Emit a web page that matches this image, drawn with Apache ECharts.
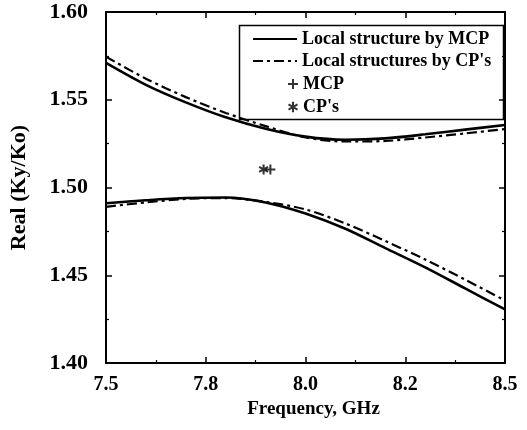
<!DOCTYPE html>
<html>
<head>
<meta charset="utf-8">
<script src="https://cdn.jsdelivr.net/npm/echarts@6/dist/echarts.min.js"></script>
<style>html,body{margin:0;padding:0;background:#fff}#c{width:527px;height:430px}</style>
</head>
<body>
<div id="c"></div>
<script>
// ---- data ----
var freq = [7.5, 7.6, 7.7, 7.8, 7.9, 8.0, 8.1, 8.2, 8.3, 8.4, 8.5];
var upperMCP = [1.5710, 1.5585, 1.5485, 1.5400, 1.5335, 1.5290, 1.5272, 1.5280, 1.5303, 1.5330, 1.5356];
var upperCP  = [1.5745, 1.5620, 1.5515, 1.5425, 1.5350, 1.5285, 1.5262, 1.5265, 1.5285, 1.5308, 1.5333];
var lowerMCP = [1.4910, 1.4927, 1.4940, 1.4943, 1.4915, 1.4852, 1.4765, 1.4655, 1.4545, 1.4425, 1.4305];
var lowerCP  = [1.4890, 1.4915, 1.4935, 1.4940, 1.4918, 1.4875, 1.4795, 1.4695, 1.4590, 1.4475, 1.4356];
var pointMCP = [7.912, 1.5103];
var pointCP  = [7.895, 1.5103];
var xTickValues = [7.5, 7.75, 8.0, 8.25, 8.5];
var xTickLabels = ['7.5', '7.8', '8.0', '8.2', '8.5'];
var nameMCP = 'Local structure by MCP';
var nameCP = "Local structures by CP's";
var nameMarkMCP = 'MCP';
var nameMarkCP = "CP's";

function pairs(xs, ys) { return xs.map(function (x, i) { return [x, ys[i]]; }); }

var FONT = 'Liberation Serif';
var plusPath = 'path://M4,0L6,0L6,10L4,10Z M0,4L10,4L10,6L0,6Z';
var starPath = 'path://M4,0L6,0L6,10L4,10Z M0.17,3.37L1.17,1.63L9.83,6.63L8.83,8.37Z M8.83,1.63L9.83,3.37L1.17,8.37L0.17,6.63Z';
var dashDot = [10, 4, 3, 4];

var chart = echarts.init(document.getElementById('c'), null, {renderer: 'canvas'});

var tickCommon = {show: true, inside: true, length: 6, lineStyle: {color: '#000', width: 1.5}};
var minorCommon = {show: true, splitNumber: 2, length: 3, lineStyle: {color: '#000', width: 1.2}};
var lineCommon = {show: true, onZero: false, lineStyle: {color: '#000', width: 2}};
var legendText = {color: '#000', fontFamily: FONT, fontWeight: 'bold', fontSize: 18, lineHeight: 18};

chart.setOption({
  backgroundColor: '#fff',
  animation: false,
  grid: {left: 102, right: 22, top: 12, bottom: 67},
  xAxis: [{
    type: 'value', min: 7.5, max: 8.5, interval: 0.25,
    axisLine: lineCommon, axisTick: tickCommon, minorTick: minorCommon,
    splitLine: {show: false},
    axisLabel: {
      color: '#000', fontFamily: FONT, fontWeight: 'bold', fontSize: 20, margin: 12,
      formatter: function (v) {
        for (var i = 0; i < xTickValues.length; i++) {
          if (Math.abs(xTickValues[i] - v) < 1e-6) return xTickLabels[i];
        }
        return '';
      }
    },
    name: 'Frequency, GHz', nameLocation: 'middle', nameGap: 37,
    nameTextStyle: {color: '#000', fontFamily: FONT, fontWeight: 'bold', fontSize: 19, padding: [0, 0, 0, 16]}
  }, {
    type: 'value', position: 'top', min: 7.5, max: 8.5, interval: 0.25,
    axisLine: lineCommon, axisTick: tickCommon, minorTick: minorCommon,
    splitLine: {show: false}, axisLabel: {show: false}
  }],
  yAxis: [{
    type: 'value', min: 1.40, max: 1.60, interval: 0.05,
    axisLine: lineCommon, axisTick: tickCommon, minorTick: minorCommon,
    splitLine: {show: false},
    axisLabel: {
      color: '#000', fontFamily: FONT, fontWeight: 'bold', fontSize: 22, margin: 18,
      formatter: function (v) { return v.toFixed(2); }
    },
    name: 'Real (Ky/Ko)', nameLocation: 'middle', nameGap: 76,
    nameTextStyle: {color: '#000', fontFamily: FONT, fontWeight: 'bold', fontSize: 22}
  }, {
    type: 'value', position: 'right', min: 1.40, max: 1.60, interval: 0.05,
    axisLine: lineCommon, axisTick: tickCommon, minorTick: minorCommon,
    splitLine: {show: false}, axisLabel: {show: false}
  }],
  legend: [{
    orient: 'vertical', left: 247, top: 25,
    itemWidth: 44, itemHeight: 18, itemGap: 4,
    itemStyle: {color: 'rgba(0,0,0,0)', borderColor: 'rgba(0,0,0,0)', borderWidth: 0},
    data: [nameMCP, nameCP],
    textStyle: legendText
  }, {
    orient: 'vertical', left: 283, top: 70,
    itemWidth: 10, itemHeight: 18, itemGap: 5,
    data: [nameMarkMCP, nameMarkCP],
    textStyle: legendText
  }],
  graphic: [{
    type: 'rect', left: 237, top: 23, z: 100,
    shape: {width: 264, height: 94},
    style: {fill: 'none', stroke: '#000', lineWidth: 1.5}
  }],
  series: [
    {name: nameMCP, type: 'line', data: pairs(freq, upperMCP), smooth: 0.3, symbol: 'none',
     lineStyle: {color: '#000', width: 2.6}, itemStyle: {color: '#000'}},
    {name: nameMCP, type: 'line', data: pairs(freq, lowerMCP), smooth: 0.3, symbol: 'none',
     lineStyle: {color: '#000', width: 2.6}, itemStyle: {color: '#000'}},
    {name: nameCP, type: 'line', data: pairs(freq, upperCP), smooth: 0.3, symbol: 'none',
     lineStyle: {color: '#000', width: 2.2, type: dashDot}, itemStyle: {color: '#000'}},
    {name: nameCP, type: 'line', data: pairs(freq, lowerCP), smooth: 0.3, symbol: 'none',
     lineStyle: {color: '#000', width: 2.2, type: dashDot}, itemStyle: {color: '#000'}},
    {name: nameMarkMCP, type: 'scatter', data: [pointMCP], symbol: plusPath, symbolSize: 10,
     itemStyle: {color: '#000'}},
    {name: nameMarkCP, type: 'scatter', data: [pointCP], symbol: starPath, symbolSize: 10,
     itemStyle: {color: '#000'}}
  ]
});
</script>
</body>
</html>
